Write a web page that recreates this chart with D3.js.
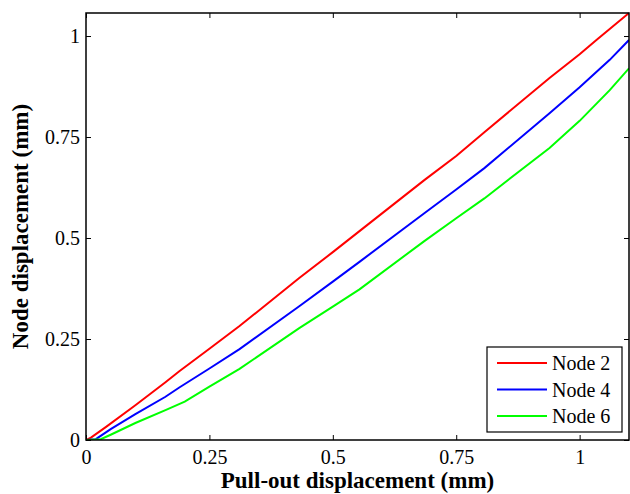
<html>

<head>
    <meta charset="utf-8">
    <title>Node displacement</title>

    <style>
        body {
            padding: 0;
            margin: 0;
            background: #ffffff;
        }

        svg text {
            font-family: "Liberation Serif", "Times New Roman", Times, serif !important;
        }

        .tick line {
            stroke: #000;
            stroke-width: 1;
        }

        .series {
            fill: none;
            stroke-width: 2;
        }

        .title {
            font-weight: bold;
            font-size: 23px;
        }
    </style>
</head>

<body>

    <div id="chart"></div>

    <script src="https://cdnjs.cloudflare.com/ajax/libs/d3/7.8.5/d3.min.js"></script>

    <script>
        // values
        var xTicks = [0, 0.25, 0.5, 0.75, 1];
        var yTicks = [0, 0.25, 0.5, 0.75, 1];

        var node2X = [0, 0.01, 0.04, 0.1, 0.161, 0.189, 0.25, 0.311, 0.432, 0.5, 0.554, 0.686, 0.75, 0.807, 0.939, 1.0, 1.034, 1.1];
        var node2Y = [0, 0.006, 0.032, 0.086, 0.143, 0.170, 0.226, 0.282, 0.401, 0.465, 0.517, 0.644, 0.703, 0.762, 0.896, 0.955, 0.99, 1.057];

        var node4X = [0, 0.02, 0.05, 0.1, 0.161, 0.189, 0.25, 0.311, 0.432, 0.5, 0.554, 0.686, 0.75, 0.807, 0.939, 1.0, 1.061, 1.1];
        var node4Y = [0, 0.002, 0.027, 0.064, 0.107, 0.130, 0.177, 0.225, 0.331, 0.392, 0.441, 0.562, 0.620, 0.673, 0.809, 0.873, 0.941, 0.99];

        var node6X = [0, 0.03, 0.05, 0.1, 0.161, 0.2, 0.25, 0.311, 0.432, 0.5, 0.554, 0.686, 0.75, 0.807, 0.939, 1.0, 1.061, 1.1];
        var node6Y = [0, 0.002, 0.013, 0.042, 0.074, 0.095, 0.132, 0.176, 0.277, 0.330, 0.373, 0.493, 0.549, 0.598, 0.723, 0.790, 0.866, 0.92];

        var seriesNames = ["Node 2", "Node 4", "Node 6"];
        var seriesColors = ["#ff0000", "#0000ff", "#00ff00"];

        var width = 630,
            height = 494;

        var margin = {
            top: 13,
            left: 86,
            bottom: 54,
            right: 1
        };

        var svg = d3.select("#chart")
            .append("svg")
            .attr("width", width)
            .attr("height", height);

        var x = d3.scaleLinear()
            .domain([0, 1.1])
            .range([margin.left, width - margin.right]);

        var y = d3.scaleLinear()
            .domain([0, 1.057])
            .range([height - margin.bottom, margin.top]);

        var fmt = function (d) { return d; };

        function serifAxis(g) {
            g.attr("font-size", 20);
            g.select(".domain").remove();
        }

        // axes, ticks inward
        svg.append("g")
            .attr("transform", "translate(0," + (height - margin.bottom) + ")")
            .call(d3.axisBottom(x).tickValues(xTicks).tickSize(-5).tickPadding(10).tickFormat(fmt))
            .call(serifAxis);

        svg.append("g")
            .attr("transform", "translate(0," + margin.top + ")")
            .call(d3.axisTop(x).tickValues(xTicks).tickSize(-5).tickFormat(""))
            .call(serifAxis);

        svg.append("g")
            .attr("transform", "translate(" + margin.left + ",0)")
            .call(d3.axisLeft(y).tickValues(yTicks).tickSize(-5).tickPadding(6).tickFormat(fmt))
            .call(serifAxis);

        svg.append("g")
            .attr("transform", "translate(" + (width - margin.right) + ",0)")
            .call(d3.axisRight(y).tickValues(yTicks).tickSize(-5).tickFormat(""))
            .call(serifAxis);

        svg.append("clipPath")
            .attr("id", "clip")
            .append("rect")
            .attr("x", margin.left)
            .attr("y", margin.top - 1)
            .attr("width", width - margin.left - margin.right)
            .attr("height", height - margin.top - margin.bottom + 1);

        var line = d3.line()
            .x(function (d) { return x(d[0]); })
            .y(function (d) { return y(d[1]); });

        var series = [
            d3.zip(node2X, node2Y),
            d3.zip(node4X, node4Y),
            d3.zip(node6X, node6Y)
        ];

        svg.append("g")
            .attr("clip-path", "url(#clip)")
            .selectAll("path")
            .data(series)
            .enter()
            .append("path")
            .attr("class", "series")
            .attr("d", line)
            .attr("stroke", function (d, i) { return seriesColors[i]; });

        // frame
        svg.append("rect")
            .attr("x", margin.left)
            .attr("y", margin.top)
            .attr("width", width - margin.left - margin.right)
            .attr("height", height - margin.top - margin.bottom)
            .attr("fill", "none")
            .attr("stroke", "#000")
            .attr("stroke-width", 1.5);

        // legend
        var legend = svg.append("g")
            .attr("transform", "translate(487,347)");

        legend.append("rect")
            .attr("width", 135)
            .attr("height", 85)
            .attr("fill", "#fff")
            .attr("stroke", "#000")
            .attr("stroke-width", 1.2);

        var rows = legend.selectAll(".row")
            .data(seriesNames)
            .enter()
            .append("g")
            .attr("class", "row")
            .attr("transform", function (d, i) { return "translate(0," + (16 + i * 26.5) + ")"; });

        rows.append("line")
            .attr("x1", 10)
            .attr("x2", 60)
            .attr("stroke-width", 2)
            .attr("stroke", function (d, i) { return seriesColors[i]; });

        rows.append("text")
            .attr("x", 65)
            .attr("dy", "0.35em")
            .attr("font-size", "20px")
            .text(function (d) { return d; });

        // axis titles
        svg.append("text")
            .attr("class", "title")
            .attr("x", (margin.left + width - margin.right) / 2)
            .attr("y", 488)
            .attr("text-anchor", "middle")
            .text("Pull-out displacement (mm)");

        svg.append("text")
            .attr("class", "title")
            .attr("transform", "translate(28," + ((margin.top + height - margin.bottom) / 2) + ") rotate(-90)")
            .attr("text-anchor", "middle")
            .text("Node displacement (mm)");
    </script>
</body>

</html>
